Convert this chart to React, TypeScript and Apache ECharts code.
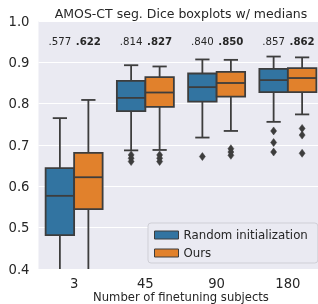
import React, { useEffect, useRef } from 'react';
import * as echarts from 'echarts';

const categories = ['3', '45', '90', '180'];
const hueNames = ['Random initialization', 'Ours'];
const hueColors = ['#3274a1', '#e1812c'];
// each row: [min, q1, median, q3, max]
const randomBoxes = [
  [0.3, 0.482, 0.577, 0.644, 0.765],
  [0.687, 0.782, 0.814, 0.855, 0.893],
  [0.718, 0.805, 0.84, 0.873, 0.907],
  [0.756, 0.828, 0.857, 0.884, 0.914],
];
const oursBoxes = [
  [0.35, 0.545, 0.622, 0.681, 0.809],
  [0.688, 0.792, 0.827, 0.864, 0.89],
  [0.734, 0.817, 0.85, 0.877, 0.906],
  [0.774, 0.828, 0.862, 0.886, 0.912],
];
const randomOutliers = [[], [0.676, 0.668, 0.66], [0.672], [0.734, 0.706, 0.683]];
const oursOutliers = [[], [0.676, 0.668, 0.66], [0.691, 0.683, 0.675], [0.74, 0.724, 0.68]];
const yTicks = [0.4, 0.5, 0.6, 0.7, 0.8, 0.9, 1.0];
const titleText = 'AMOS-CT seg. Dice boxplots w/ medians';
const xName = 'Number of finetuning subjects';
const labelLevel = 0.95;

const FONT = 'DejaVu Sans';
const TEXT = '#262626';
const LINE = '#3d3d3d';
const LW = 1.8;

function makeBoxRender(hue: number) {
  return (params: any, api: any) => {
    const cat = api.value(0);
    const c = (v: number) => api.coord([cat, v]);
    const [cx, yMin] = c(api.value(1));
    const yQ1 = c(api.value(2))[1];
    const yMed = c(api.value(3))[1];
    const yQ3 = c(api.value(4))[1];
    const yMax = c(api.value(5))[1];
    const yLab = c(labelLevel)[1];
    const bw = api.size([1, 0])[0];
    const w = bw * 0.4;
    const x0 = hue === 0 ? cx - w : cx;
    const xc = x0 + w / 2;
    const cap = w / 4;
    const ls = { stroke: LINE, lineWidth: LW };
    const medText = api.value(3).toFixed(3).slice(1);
    return {
      type: 'group',
      children: [
        { type: 'line', shape: { x1: xc, y1: yQ3, x2: xc, y2: yMax }, style: ls },
        { type: 'line', shape: { x1: xc, y1: yQ1, x2: xc, y2: yMin }, style: ls },
        { type: 'line', shape: { x1: xc - cap, y1: yMax, x2: xc + cap, y2: yMax }, style: ls },
        { type: 'line', shape: { x1: xc - cap, y1: yMin, x2: xc + cap, y2: yMin }, style: ls },
        {
          type: 'rect',
          shape: { x: x0, y: yQ3, width: w, height: yQ1 - yQ3 },
          style: { fill: hueColors[hue], stroke: LINE, lineWidth: LW },
        },
        { type: 'line', shape: { x1: x0, y1: yMed, x2: x0 + w, y2: yMed }, style: ls },
        {
          type: 'text',
          x: xc,
          y: yLab,
          style: {
            text: medText,
            fill: TEXT,
            fontSize: 10.2,
            fontWeight: hue === 1 ? 'bold' : 'normal',
            fontFamily: FONT,
            align: 'center',
            verticalAlign: 'middle',
          },
        },
      ],
    };
  };
}

function renderOutlier(params: any, api: any) {
  const cat = api.value(0);
  const hue = api.value(2);
  const [cx, y] = api.coord([cat, api.value(1)]);
  const bw = api.size([1, 0])[0];
  const x = cx + (hue === 0 ? -0.2 : 0.2) * bw;
  return {
    type: 'polygon',
    shape: { points: [[x, y - 4], [x + 3, y], [x, y + 4], [x - 3, y]] },
    style: { fill: LINE, stroke: LINE, lineWidth: 0.5 },
  };
}

export default function App() {
  const ref = useRef<HTMLDivElement>(null);
  useEffect(() => {
    if (!ref.current) return;
    const chart = echarts.init(ref.current, undefined, { renderer: 'svg' });
    const boxData = (rows: number[][]) => rows.map((r, i) => [i, ...r]);
    const outlierData: number[][] = [];
    [randomOutliers, oursOutliers].forEach((arr, hue) =>
      arr.forEach((vals, cat) => vals.forEach((v) => outlierData.push([cat, v, hue])))
    );
    chart.setOption({
      animation: false,
      textStyle: { fontFamily: FONT },
      grid: {
        left: 38.5,
        top: 21,
        width: 285,
        height: 248,
        show: true,
        backgroundColor: '#eaeaf2',
        borderWidth: 0,
        containLabel: false,
        outerBoundsMode: 'none',
      },
      graphic: [
        {
          type: 'text',
          x: 181,
          y: 13,
          style: {
            text: titleText,
            fill: TEXT,
            fontSize: 12.5,
            fontFamily: FONT,
            align: 'center',
            verticalAlign: 'middle',
          },
        },
        {
          type: 'text',
          x: 181,
          y: 303,
          style: {
            text: xName,
            fill: TEXT,
            fontSize: 11.6,
            fontFamily: FONT,
            align: 'center',
            verticalAlign: 'bottom',
          },
        },
      ],
      legend: {
        orient: 'vertical',
        left: 148,
        top: 223,
        padding: [6, 10, 4, 6],
        itemGap: 6,
        itemWidth: 24,
        itemHeight: 8,
        itemTextGap: 10,
        icon: 'rect',
        backgroundColor: '#eaeaf2',
        borderColor: '#cfcfd6',
        borderWidth: 1,
        borderRadius: 3,
        itemStyle: { borderColor: LINE, borderWidth: 1 },
        textStyle: { color: TEXT, fontSize: 11.8, fontFamily: FONT },
        data: hueNames,
      },
      xAxis: {
        type: 'category',
        data: categories,
        boundaryGap: true,
        axisLine: { show: false },
        axisTick: { show: false },
        axisLabel: { color: TEXT, fontSize: 13.2, fontFamily: FONT, margin: 8 },
        splitLine: { show: false },
      },
      yAxis: {
        type: 'value',
        min: yTicks[0],
        max: yTicks[yTicks.length - 1],
        interval: 0.1,
        axisLine: { show: false },
        axisTick: { show: false },
        axisLabel: {
          color: TEXT,
          fontSize: 13.2,
          fontFamily: FONT,
          margin: 9,
          formatter: (v: number) => v.toFixed(1),
        },
        splitLine: { show: true, lineStyle: { color: '#ffffff', width: 1 } },
      },
      series: [
        {
          name: hueNames[0],
          type: 'custom',
          clip: true,
          itemStyle: { color: hueColors[0] },
          renderItem: makeBoxRender(0),
          encode: { x: 0, y: [1, 2, 3, 4, 5] },
          data: boxData(randomBoxes),
        },
        {
          name: hueNames[1],
          type: 'custom',
          clip: true,
          itemStyle: { color: hueColors[1] },
          renderItem: makeBoxRender(1),
          encode: { x: 0, y: [1, 2, 3, 4, 5] },
          data: boxData(oursBoxes),
        },
        {
          name: 'outliers',
          type: 'custom',
          clip: true,
          renderItem: renderOutlier,
          encode: { x: 0, y: 1 },
          data: outlierData,
        },
      ],
    });
    return () => chart.dispose();
  }, []);
  return (
    <div
      ref={ref}
      style={{ width: 318, height: 304, position: 'fixed', left: 0, top: 0 }}
    />
  );
}
